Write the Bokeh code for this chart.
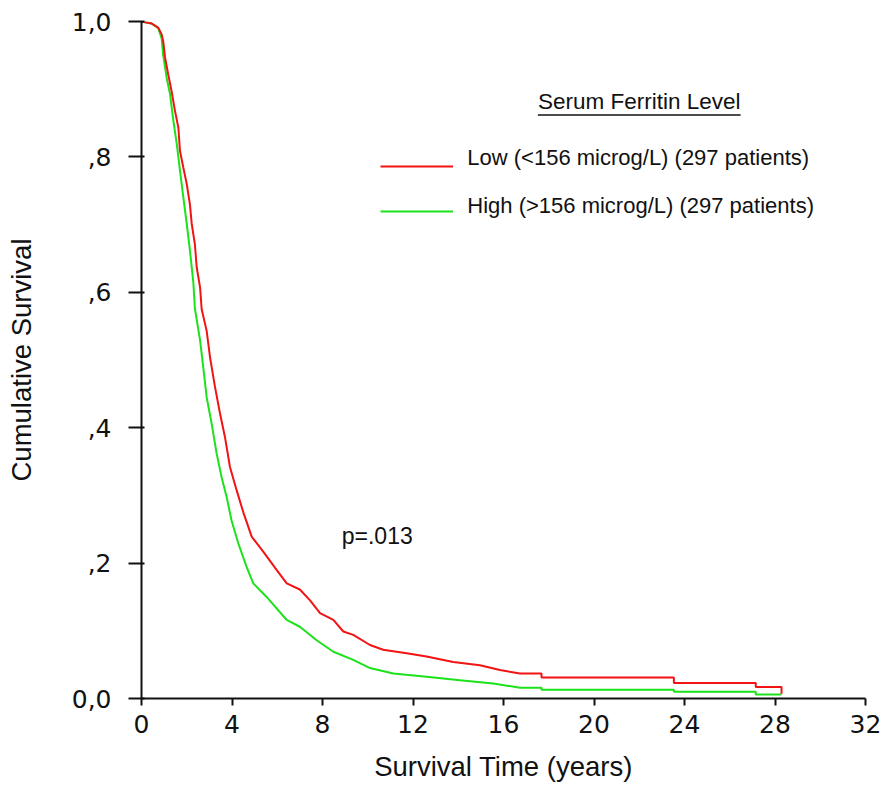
from bokeh.plotting import figure
from bokeh.models import Range1d, FixedTicker, Label, Legend, LegendItem, BoxAnnotation
from bokeh.embed import file_html
from bokeh.resources import INLINE

# ---- data (Kaplan-Meier estimates; a repeated time marks a drop) ----
low_time = [0.0, 0.45, 0.74, 0.89, 0.96, 1.04, 1.18, 1.33, 1.48, 1.63, 1.70, 1.85, 2.00,
            2.14, 2.22, 2.36, 2.44, 2.59, 2.66, 2.88, 3.03, 3.25, 3.47, 3.69, 3.91, 4.21,
            4.50, 4.87, 5.38, 5.97, 6.42, 7.00, 7.45, 7.89, 8.48, 8.92, 9.36, 10.10, 10.68,
            11.72, 12.60, 13.78, 14.96, 15.84, 16.73, 17.68, 17.68, 23.53, 23.53, 27.15,
            27.15, 28.29, 28.29]
low_surv = [1.0, 0.997, 0.991, 0.981, 0.971, 0.947, 0.922, 0.897, 0.868, 0.843, 0.809, 0.784, 0.760,
            0.730, 0.701, 0.671, 0.637, 0.607, 0.575, 0.543, 0.504, 0.460, 0.421, 0.386, 0.342, 0.307,
            0.275, 0.239, 0.217, 0.190, 0.170, 0.161, 0.145, 0.126, 0.116, 0.099, 0.094, 0.079, 0.072,
            0.067, 0.062, 0.054, 0.049, 0.042, 0.037, 0.037, 0.031, 0.031, 0.023, 0.023,
            0.017, 0.017, 0.007]

high_time = [0.0, 0.45, 0.74, 0.89, 0.96, 1.11, 1.26, 1.41, 1.56, 1.70, 1.85, 2.00, 2.14,
             2.29, 2.36, 2.59, 2.73, 2.88, 3.10, 3.32, 3.54, 3.76, 3.98, 4.28, 4.65, 4.94,
             5.53, 6.42, 7.00, 7.74, 8.48, 9.36, 10.10, 11.13, 12.60, 14.07, 15.55, 16.73,
             17.68, 17.68, 23.53, 23.53, 27.15, 27.15, 28.29]
high_surv = [1.0, 0.997, 0.990, 0.975, 0.950, 0.917, 0.893, 0.853, 0.819, 0.780, 0.740, 0.701, 0.662,
             0.615, 0.576, 0.529, 0.489, 0.445, 0.406, 0.362, 0.327, 0.298, 0.263, 0.229, 0.194, 0.170,
             0.150, 0.116, 0.106, 0.086, 0.069, 0.057, 0.045, 0.037, 0.032, 0.027, 0.022, 0.016,
             0.016, 0.0128, 0.0128, 0.0099, 0.0099, 0.0059, 0.0059]

x_ticks = [0, 4, 8, 12, 16, 20, 24, 28, 32]
y_ticks = [0.0, 0.2, 0.4, 0.6, 0.8, 1.0]
y_tick_labels = ["0,0", ",2", ",4", ",6", ",8", "1,0"]

x_title = "Survival Time (years)"
y_title = "Cumulative Survival"
legend_title = "Serum Ferritin Level"
series_labels = ["Low (<156 microg/L) (297 patients)", "High (>156 microg/L) (297 patients)"]
p_value_text = "p=.013"

RED = "#f21313"
GREEN = "#1be21b"
TXT = "#111111"

p = figure(width=883, height=785, output_backend="svg", toolbar_location=None,
           x_range=Range1d(0, 32), y_range=Range1d(0, 1.0),
           min_border_left=141, min_border_right=18, min_border_top=21, min_border_bottom=87)
p.grid.visible = False
p.outline_line_color = None
p.background_fill_color = "white"

r_high = p.line(high_time, high_surv, line_color=GREEN, line_width=2)
r_low = p.line(low_time, low_surv, line_color=RED, line_width=2)

# axes
for ax in (p.xaxis[0], p.yaxis[0]):
    ax.axis_line_width = 2
    ax.axis_line_color = "#111111"
    ax.major_tick_line_width = 2
    ax.major_tick_line_color = "#111111"
    ax.minor_tick_line_color = None
    ax.major_label_text_font = "DejaVu Sans"
    ax.major_label_text_color = TXT
    ax.major_label_text_font_size = "25px"
    ax.axis_label_text_font = "Liberation Sans"
    ax.axis_label_text_font_style = "normal"
    ax.axis_label_text_color = TXT
    ax.axis_label_text_font_size = "27.5px"

p.xaxis.ticker = FixedTicker(ticks=x_ticks)
p.xaxis.major_tick_out = 7
p.xaxis.major_tick_in = 0
p.xaxis.major_label_standoff = 9
p.xaxis.axis_label = x_title
p.xaxis.axis_label_standoff = 15

p.yaxis.ticker = FixedTicker(ticks=y_ticks)
p.yaxis.major_label_overrides = dict(zip(y_ticks, y_tick_labels))
p.yaxis.major_tick_out = 13
p.yaxis.major_tick_in = 3
p.yaxis.major_label_standoff = 17
p.yaxis.axis_label = y_title
p.yaxis.axis_label_standoff = 32

# legend: sample lines from a Legend, texts as labels (text baseline sits on the line)
legend = Legend(
    items=[LegendItem(label=" ", renderers=[r_low]),
           LegendItem(label=" ", renderers=[r_high])],
    location=(239, 474), orientation="vertical",
    glyph_width=73, glyph_height=26, label_height=26, spacing=19,
    padding=0, margin=0, border_line_color=None, background_fill_alpha=0,
    label_text_font="Liberation Sans", label_text_font_size="22px",
    label_text_color=TXT, label_standoff=0, label_width=0,
)
p.add_layout(legend)

for txt, ly in zip(series_labels, [0.7996, 0.7282]):
    p.add_layout(Label(x=14.40, y=ly, text=txt, text_align="left",
                       text_baseline="middle", text_font="Liberation Sans",
                       text_font_size="22px", text_color=TXT))

p.add_layout(Label(x=22.0, y=0.882, text=legend_title, text_align="center",
                   text_baseline="middle", text_font="Liberation Sans",
                   text_font_size="22.5px", text_color=TXT))
p.add_layout(BoxAnnotation(left=17.52, right=26.48, bottom=0.8609, top=0.8631,
                           fill_color=TXT, fill_alpha=1.0, line_alpha=0))

p.add_layout(Label(x=8.85, y=0.2396, text=p_value_text, text_align="left",
                   text_baseline="middle", text_font="Liberation Sans",
                   text_font_size="23px", text_color=TXT))

open("out.html", "w").write(file_html(p, INLINE))
